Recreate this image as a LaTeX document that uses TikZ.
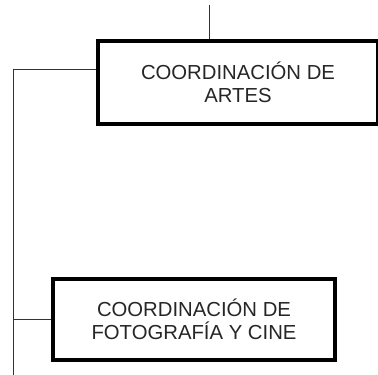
\documentclass[tikz,border=0pt]{standalone}
\usepackage{fontspec}
\setmainfont{Liberation Sans}
\begin{document}
\begin{tikzpicture}[x=1pt,y=-1pt,
  unitbox/.style={draw=black, line width=3.8pt, fill=white, align=center, inner sep=0pt,
    font=\fontsize{20.3}{23.5}\selectfont, text=black!85},
  conn/.style={draw=black!80, line width=1pt}]
\useasboundingbox (0,0) rectangle (378,375);
\node[unitbox, minimum width=280pt, minimum height=83.5pt] (artes) at (238,82.5) {COORDINACIÓN DE\\ARTES};
\node[unitbox, minimum width=282pt, minimum height=81pt] (foto) at (194,319.2) {COORDINACIÓN DE\\FOTOGRAFÍA Y CINE};
\coordinate (top) at (209,5);
\coordinate (trunkTop) at (13,69);
\coordinate (trunkBot) at (13,375);
\draw[conn] (top) -- (top |- artes.north);
\draw[conn] (artes.west |- trunkTop) -- (trunkTop) -- (trunkBot);
\draw[conn] (foto.west) -- (trunkTop |- foto.west);
\end{tikzpicture}
\end{document}
